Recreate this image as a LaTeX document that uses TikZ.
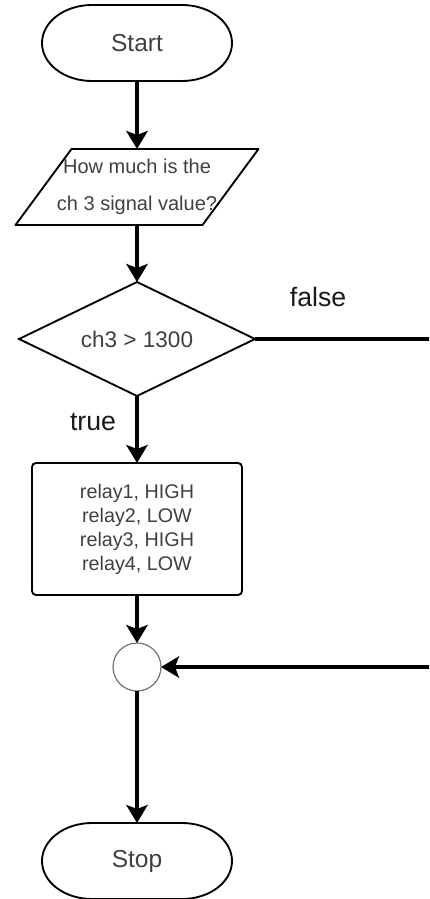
\documentclass[tikz,border=0pt]{standalone}
\usepackage{fontspec}
\setmainfont{Liberation Sans}
\usetikzlibrary{arrows.meta,calc}

\definecolor{txtgray}{HTML}{404040}
\definecolor{labelblack}{HTML}{1A1A1A}

\tikzset{
  shapeline/.style={draw=black, line width=1.4pt},
  boxtext/.style={text=txtgray, outer sep=0pt, inner sep=0pt},
  flow/.style={line width=3pt, -{Stealth[length=13.5pt, width=16pt, inset=3pt]}},
  flowplain/.style={line width=3pt},
  branchlabel/.style={text=labelblack, font=\fontsize{20}{24}\selectfont},
}

% terminator outline with elliptical ends around a named node
\newcommand\termoutline[1]{%
  \draw[shapeline] ([xshift=37.5pt]#1.north west) -- ([xshift=-37.5pt]#1.north east)
    arc[start angle=90, end angle=-90, x radius=37.5pt, y radius=28.5pt]
    -- ([xshift=37.5pt]#1.south west)
    arc[start angle=270, end angle=90, x radius=37.5pt, y radius=28.5pt] -- cycle;}

\begin{document}
\begin{tikzpicture}[x=0.75pt, y=-0.75pt]
\useasboundingbox (0,0) rectangle (429,899);
\clip (0,0) rectangle (429,899);

% Start
\node[boxtext, minimum width=142.5pt, minimum height=57pt,
      font=\fontsize{18.4}{22}\selectfont] (start) at (137,43) {Start};
\termoutline{start}

% input
\node[boxtext, minimum width=90pt, minimum height=57pt, align=center,
      font=\fontsize{15}{27.75}\selectfont] (input) at (137,187)
      {How much is the\\ch 3 signal value?};
\draw[shapeline, line join=round] ($(input.north)+(-65.5,0)$) -- ($(input.north)+(121.5,0)$)
  -- ($(input.south)+(65.5,0)$) -- ($(input.south)+(-121.5,0)$) -- cycle;

% decision
\node[boxtext, minimum width=177pt, minimum height=85.5pt,
      font=\fontsize{16.9}{20}\selectfont] (dec) at (137,339) {ch3 > 1300};
\draw[shapeline] (dec.north) -- (dec.east) -- (dec.south) -- (dec.west) -- cycle;

% process
\node[boxtext, shapeline, rounded corners=3pt, minimum width=157.5pt, minimum height=99pt,
      align=center, font=\fontsize{14.8}{18}\selectfont] (proc) at (137,529)
      {relay1, HIGH\\relay2, LOW\\relay3, HIGH\\relay4, LOW};

% connector
\node[circle, draw=black!55, line width=0.9pt, minimum size=36pt, inner sep=0pt, outer sep=0pt]
      (join) at (137,667) {};

% Stop
\node[boxtext, minimum width=142.5pt, minimum height=57pt,
      font=\fontsize{18.4}{22}\selectfont] (stop) at (137,861) {Stop};
\termoutline{stop}

% flow lines
\draw[flow] (start.south) -- (input.north);
\draw[flow] (input.south) -- (dec.north);
\draw[flow] (dec.south) -- (proc.north);
\draw[flow] (proc.south) -- (join.north);
\draw[flow] (join.south) -- (stop.north);
\coordinate (loop) at (460,339);
\draw[flow] (dec.east) -- (loop) |- (join.east);

% branch labels
\node[branchlabel] (flabel) at (318,297) {false};
\node[branchlabel] (tlabel) at (93,422) {true};
\end{tikzpicture}
\end{document}
